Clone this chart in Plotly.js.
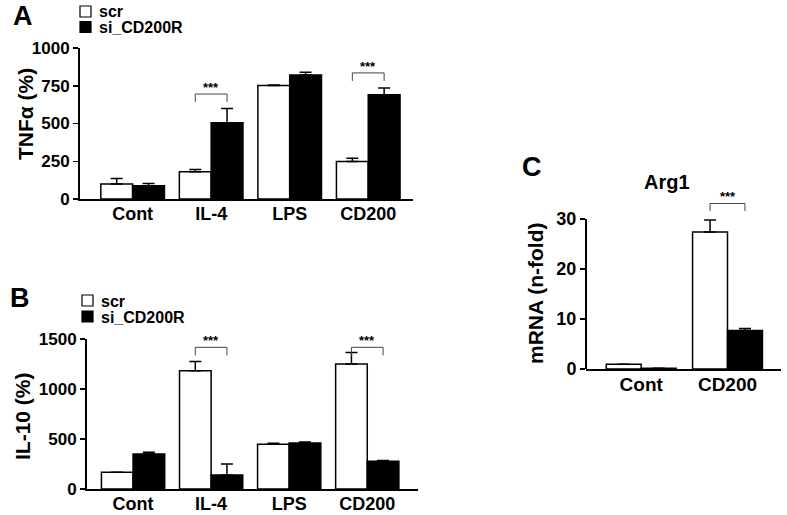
<!DOCTYPE html>
<html>
<head>
<meta charset="utf-8">
<script src="https://cdn.plot.ly/plotly-3.0.1.min.js"></script>
<style>
  html, body { margin: 0; padding: 0; background: #fff; }
  #plot { width: 787px; height: 515px; }
</style>
</head>
<body>
<div id="plot"></div>
<script>
// panel A / B categories
var categoriesAB = ['Cont', 'IL-4', 'LPS', 'CD200'];
var categoriesC = ['Cont', 'CD200'];
var seriesNames = ['scr', 'si_CD200R'];

// A: TNFa (%)
var tnfScr = [100, 180, 752, 248];
var tnfScrErr = [35, 15, 3, 22];
var tnfSi = [88, 505, 822, 690];
var tnfSiErr = [15, 95, 18, 45];
var tnfSigCats = ['IL-4', 'CD200'];
var tnfSigY = [695, 835];

// B: IL-10 (%)
var il10Scr = [167, 1183, 448, 1250];
var il10ScrErr = [0, 93, 10, 116];
var il10Si = [351, 140, 461, 277];
var il10SiErr = [17, 110, 10, 7];
var il10SigCats = ['IL-4', 'CD200'];
var il10SigY = [1417, 1417];

// C: Arg1 mRNA (n-fold)
var arg1Scr = [0.95, 27.4];
var arg1ScrErr = [0, 2.4];
var arg1Si = [0.15, 7.7];
var arg1SiErr = [0, 0.4];
var arg1SigCats = ['CD200'];
var arg1SigY = [33.1];

var W = 787, H = 515;
var FONT = 'Arial, "Liberation Sans", sans-serif';
var BARGAP = 0.19;

function px(x) { return x / W; }
function py(y) { return 1 - y / H; }
function zeros(n) { return Array.from({length: n}, function () { return 0; }); }

function barTrace(name, cats, vals, errs, filled, xa, ya) {
    return {
        type: 'bar',
        name: name,
        x: cats,
        y: vals,
        xaxis: xa,
        yaxis: ya,
        showlegend: false,
        marker: {color: filled ? '#000' : '#fff', line: {color: '#000', width: 1.5}},
        error_y: {type: 'data', symmetric: false, array: errs, arrayminus: zeros(errs.length),
                  color: '#000', thickness: 1.5, width: 6},
        hoverinfo: 'skip'
    };
}

var data = [
    barTrace(seriesNames[0], categoriesAB, tnfScr, tnfScrErr, false, 'x', 'y'),
    barTrace(seriesNames[1], categoriesAB, tnfSi, tnfSiErr, true, 'x', 'y'),
    barTrace(seriesNames[0], categoriesAB, il10Scr, il10ScrErr, false, 'x2', 'y2'),
    barTrace(seriesNames[1], categoriesAB, il10Si, il10SiErr, true, 'x2', 'y2'),
    barTrace(seriesNames[0], categoriesC, arg1Scr, arg1ScrErr, false, 'x3', 'y3'),
    barTrace(seriesNames[1], categoriesC, arg1Si, arg1SiErr, true, 'x3', 'y3')
];

var shapes = [];
var annotations = [];

// significance brackets between the two bars of a group
function addBrackets(cats, sigCats, sigY, drop, xa, ya) {
    var off = (1 - BARGAP) / 4;
    sigCats.forEach(function (c, i) {
        var k = cats.indexOf(c);
        var top = sigY[i];
        shapes.push({
            type: 'path', xref: xa, yref: ya,
            path: 'M' + (k - off) + ',' + (top - drop) + ' L' + (k - off) + ',' + top +
                  ' L' + (k + off) + ',' + top + ' L' + (k + off) + ',' + (top - drop),
            line: {color: '#444', width: 1}
        });
        annotations.push({
            xref: xa, yref: ya, x: k, y: top, text: '***', showarrow: false,
            yanchor: 'bottom', yshift: -3,
            font: {family: FONT, size: 13, color: '#000', weight: 'bold'}
        });
    });
}
addBrackets(categoriesAB, tnfSigCats, tnfSigY, 53, 'x', 'y');
addBrackets(categoriesAB, il10SigCats, il10SigY, 81, 'x2', 'y2');
addBrackets(categoriesC, arg1SigCats, arg1SigY, 1.5, 'x3', 'y3');

// y axis line for C stops at 30
shapes.push({type: 'line', xref: 'x3 domain', yref: 'y3', x0: 0, x1: 0, y0: 0, y1: 30,
             line: {color: '#000', width: 2}});

function label(t, x, y, size, angle) {
    annotations.push({xref: 'paper', yref: 'paper', x: px(x), y: py(y), text: t,
        showarrow: false, xanchor: 'center', yanchor: 'middle', textangle: angle || 0,
        font: {family: FONT, size: size, color: '#000', weight: 'bold'}});
}
label('A', 23, 16, 27);
label('B', 20, 298, 27);
label('C', 532, 167, 27);
label('Arg1', 667, 182, 20);
label('TNF\u03b1 (%)', 25, 114, 21, -90);
label('IL-10 (%)', 22, 416, 21, -90);
label('mRNA (n-fold)', 535, 293, 21, -90);

// legend boxes: one per series, square + name
function legendBlock(x, y, gap) {
    seriesNames.forEach(function (n, i) {
        var top = y + i * gap;
        shapes.push({type: 'rect', xref: 'paper', yref: 'paper',
            x0: px(x), x1: px(x + 11), y0: py(top), y1: py(top + 11),
            fillcolor: i === 0 ? '#fff' : '#000', line: {color: '#000', width: 1.2}});
        annotations.push({xref: 'paper', yref: 'paper', x: px(x + 17), y: py(top + 6),
            text: n, showarrow: false, xanchor: 'left', yanchor: 'middle',
            font: {family: FONT, size: 16, color: '#000', weight: 'bold'}});
    });
}
legendBlock(80, 6, 15.5);
legendBlock(82, 295, 16);

function xaxis(domain, range, size, anchor) {
    return {
        domain: domain, range: range, type: 'category', anchor: anchor,
        showline: true, linecolor: '#000', linewidth: 2, ticks: '', showgrid: false,
        zeroline: false, fixedrange: true, ticklabelstandoff: -3,
        tickfont: {family: FONT, size: size, color: '#000', weight: 'bold'}
    };
}
function yaxis(domain, range, tickvals, anchor, size, showline) {
    return {
        domain: domain, range: range, anchor: anchor, tickvals: tickvals,
        showline: showline, linecolor: '#000', linewidth: 2, ticks: 'outside', ticklen: 5,
        tickwidth: 1.5, tickcolor: '#000', showgrid: false, zeroline: false, fixedrange: true,
        tickfont: {family: FONT, size: size, color: '#000', weight: 'bold'}
    };
}

var layout = {
    width: W, height: H,
    margin: {l: 0, r: 0, t: 0, b: 0},
    paper_bgcolor: '#fff', plot_bgcolor: '#fff',
    barmode: 'group', bargap: BARGAP, bargroupgap: 0,
    showlegend: false,
    xaxis: xaxis([px(80), px(413)], [-0.67, 3.57], 18, 'y'),
    yaxis: yaxis([py(199), py(48)], [0, 1000], [0, 250, 500, 750, 1000], 'x', 17, true),
    xaxis2: xaxis([px(87), px(418)], [-0.59, 3.65], 18, 'y2'),
    yaxis2: yaxis([py(489), py(339)], [0, 1500], [0, 500, 1000, 1500], 'x2', 17, true),
    xaxis3: xaxis([px(586), px(781)], [-0.64, 1.62], 19, 'y3'),
    yaxis3: yaxis([py(369), py(189)], [0, 36], [0, 10, 20, 30], 'x3', 18, false),
    shapes: shapes,
    annotations: annotations
};

Plotly.newPlot('plot', data, layout, {displayModeBar: false, staticPlot: true});
</script>
</body>
</html>
